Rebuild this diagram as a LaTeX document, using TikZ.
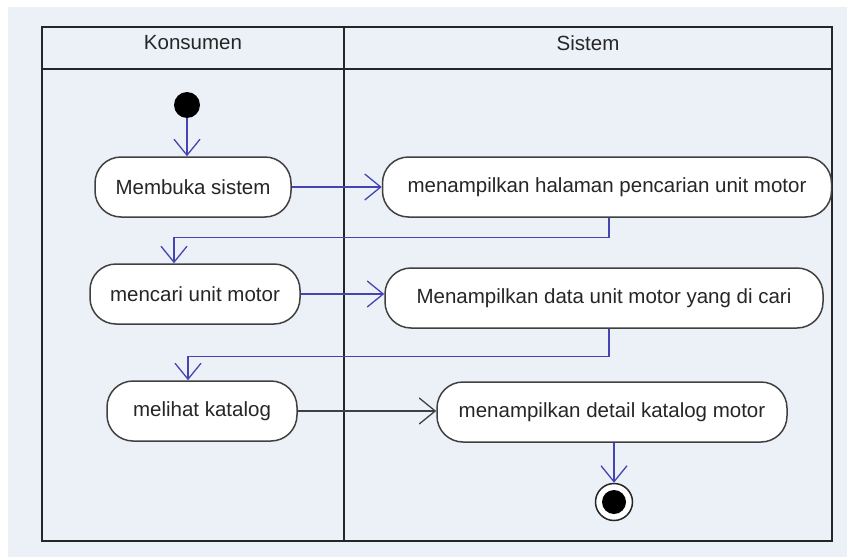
\documentclass[tikz,border=0pt]{standalone}
\usepackage{fontspec}
\setmainfont{Liberation Sans}
\usetikzlibrary{arrows.meta}

\definecolor{bgblue}{RGB}{236,241,248}
\definecolor{flowblue}{RGB}{68,68,178}

\begin{document}
\begin{tikzpicture}
  [x=1pt, y=-1pt,
   every node/.style={font=\fontsize{20.5}{24}\selectfont, text=black!85},
   activity/.style={draw=black!75, line width=1.5pt, fill=white, rounded corners=26pt,
                    minimum height=60pt, inner sep=0pt},
   flow/.style={draw=flowblue, line width=1.3pt, -{Straight Barb[length=16pt, width=26pt, line width=1.3pt]}},
   plainflow/.style={flow, draw=black!75},
   lane/.style={draw=black!85, line width=2pt}]
  \useasboundingbox (0,0) rectangle (847,557);
  \fill[bgblue] (8,7) rectangle (847,557);

  % swimlanes
  \draw[lane] (42,27) rectangle (832,541);
  \draw[lane] (42,69) -- (832,69);
  \draw[lane] (344,27) -- (344,541);
  \node (konsumen) at (193,43) {Konsumen};
  \node (sistem) at (588,43) {Sistem};

  % activities
  \node[circle, fill=black, minimum size=26pt, inner sep=0pt] (start) at (187,105) {};
  \node[activity, minimum width=196pt] (buka) at (193,187) {Membuka sistem};
  \node[activity, minimum width=449pt] (halaman) at (607,187) {menampilkan halaman pencarian unit motor};
  \node[activity, minimum width=210pt] (cari) at (195,294) {mencari unit motor};
  \node[activity, minimum width=438pt] (data) at (604,298) {Menampilkan data unit motor yang di cari};
  \node[activity, minimum width=190pt] (katalog) at (202,411) {melihat katalog};
  \node[activity, minimum width=350pt] (detail) at (612,412) {menampilkan detail katalog motor};
  \node[circle, draw=black!85, line width=1.5pt, fill=white, minimum size=37pt, inner sep=0pt] (finish) at (614,502) {};
  \node[circle, fill=black, minimum size=24pt, inner sep=0pt] (finishdot) at (finish) {};

  % transitions
  \draw[flow] (start) -- (start |- buka.north);
  \draw[flow] (buka.east) -- (halaman.west);
  \draw[flow] ([xshift=2pt]halaman.south) -- ++(0,20) -| ([xshift=-21pt]cari.north);
  \draw[flow] (cari.east) -- (cari.east -| data.west);
  \draw[flow] ([xshift=5pt]data.south) -- ++(0,28) -| ([xshift=-14pt]katalog.north);
  \draw[plainflow] (katalog.east) -- (katalog.east -| detail.west);
  \draw[flow] ([xshift=2pt]detail.south) -- (finish.north);
\end{tikzpicture}
\end{document}
